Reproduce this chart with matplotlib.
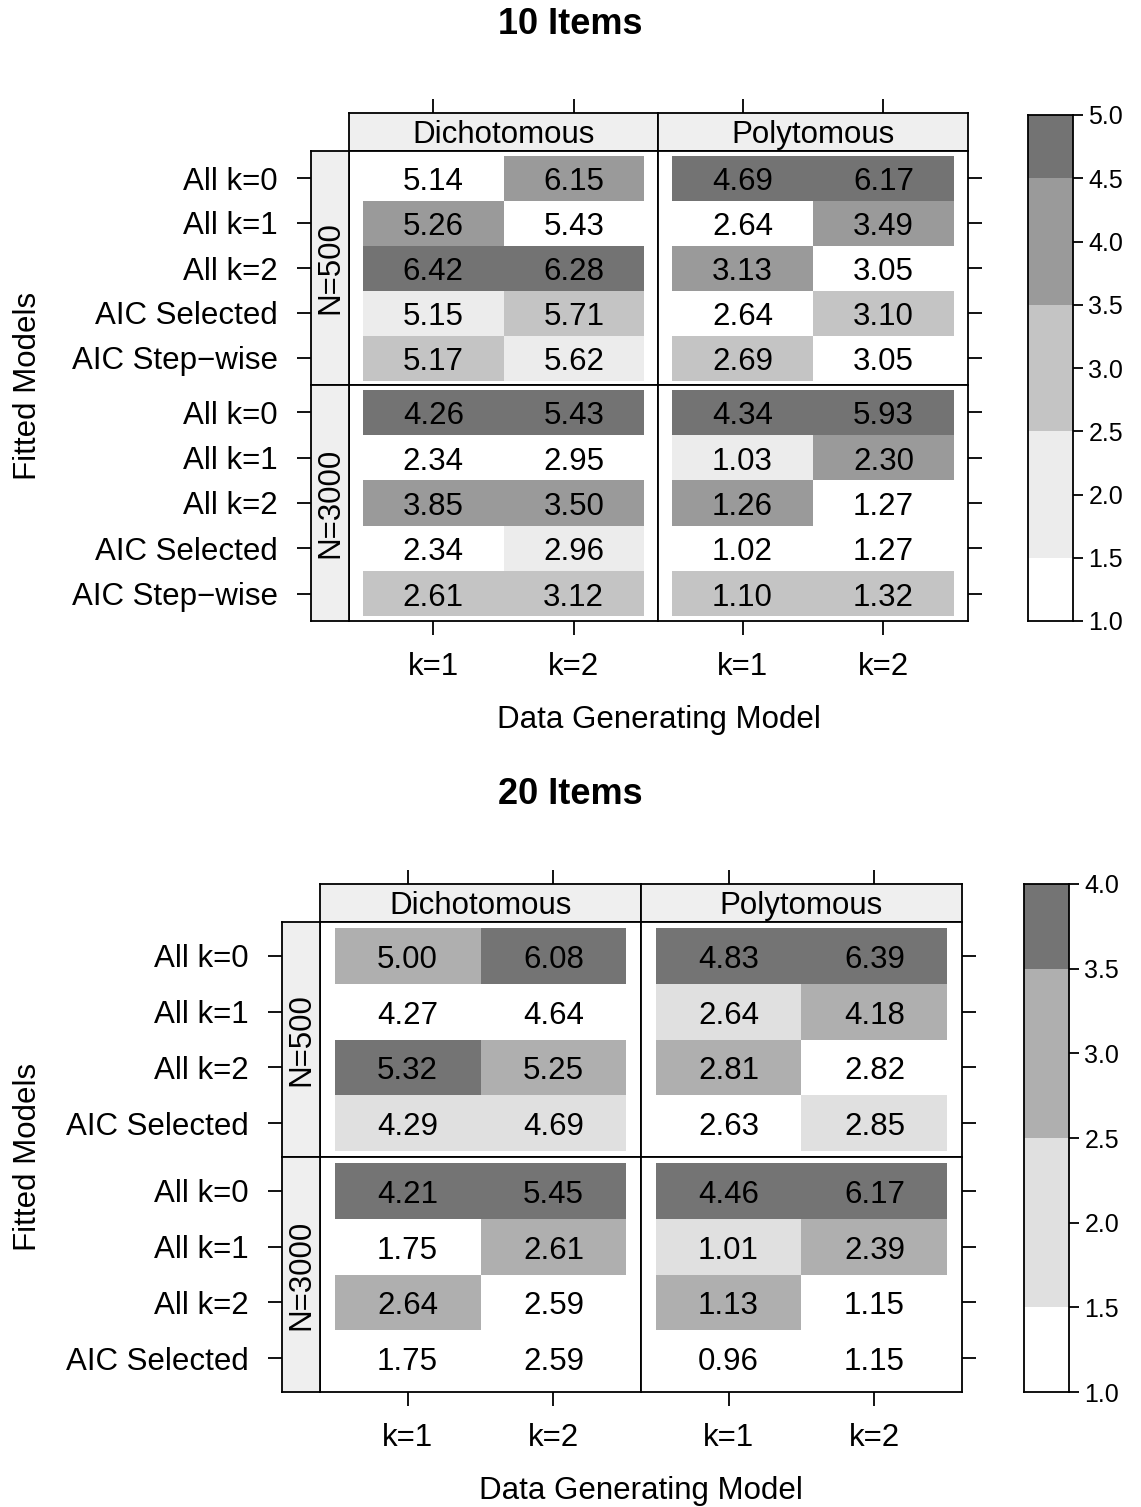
import numpy as np
import pandas as pd
import matplotlib
matplotlib.use("Agg")
import matplotlib.pyplot as plt
from matplotlib.colors import ListedColormap
from matplotlib.transforms import offset_copy

plt.rcParams['font.family'] = ['Liberation Sans', 'DejaVu Sans']

# data: rows = fitted models, columns = data generating model (k=1, k=2)
gen_models = ["k=1", "k=2"]
item_types = ["Dichotomous", "Polytomous"]
sample_sizes = ["N=500", "N=3000"]

rows_10 = ["All k=0", "All k=1", "All k=2", "AIC Selected", "AIC Step\u2212wise"]
dich_500_10 = [[5.14, 6.15], [5.26, 5.43], [6.42, 6.28], [5.15, 5.71], [5.17, 5.62]]
poly_500_10 = [[4.69, 6.17], [2.64, 3.49], [3.13, 3.05], [2.64, 3.10], [2.69, 3.05]]
dich_3000_10 = [[4.26, 5.43], [2.34, 2.95], [3.85, 3.50], [2.34, 2.96], [2.61, 3.12]]
poly_3000_10 = [[4.34, 5.93], [1.03, 2.30], [1.26, 1.27], [1.02, 1.27], [1.10, 1.32]]

rows_20 = ["All k=0", "All k=1", "All k=2", "AIC Selected"]
dich_500_20 = [[5.00, 6.08], [4.27, 4.64], [5.32, 5.25], [4.29, 4.69]]
poly_500_20 = [[4.83, 6.39], [2.64, 4.18], [2.81, 2.82], [2.63, 2.85]]
dich_3000_20 = [[4.21, 5.45], [1.75, 2.61], [2.64, 2.59], [1.75, 2.59]]
poly_3000_20 = [[4.46, 6.17], [1.01, 2.39], [1.13, 1.15], [0.96, 1.15]]

# shading = rank of the model within each column
cuts_10 = [1.0, 1.5, 2.5, 3.5, 4.5, 5.0]
greys_10 = ["#ffffff", "#ececec", "#c4c4c4", "#9a9a9a", "#737373"]
ticks_10 = [1.0, 1.5, 2.0, 2.5, 3.0, 3.5, 4.0, 4.5, 5.0]
cuts_20 = [1.0, 1.5, 2.5, 3.5, 4.0]
greys_20 = ["#ffffff", "#e0e0e0", "#afafaf", "#747474"]
ticks_20 = [1.0, 1.5, 2.0, 2.5, 3.0, 3.5, 4.0]

W, H = 1141, 1507
fig = plt.figure(figsize=(W / 100, H / 100), dpi=100)

FS = 22.5
LW = 1.3


def box(x0, y0, x1, y1):
    return fig.add_axes([x0 / W, 1 - y1 / H, (x1 - x0) / W, (y1 - y0) / H])


def rank_index(vals, cuts):
    r = pd.DataFrame(vals).rank(method="average").values
    # lattice style bins: (a, b]
    idx = np.searchsorted(cuts, r, side="left") - 1
    return np.clip(idx, 0, len(cuts) - 2)


def style(ax):
    for s in ax.spines.values():
        s.set_linewidth(LW)
    ax.tick_params(width=LW, length=10, direction="out")


def draw_block(title, rows, panels, cuts, greys, cticks, g):
    n = len(rows)
    cmap = ListedColormap(greys)
    xs = [g["x0"], g["xm"], g["x1"]]
    ys = [g["y0"], g["ym"], g["y1"]]
    fig.text(0.5, 1 - g["title"] / H, title, ha="center", va="center",
             fontsize=26, fontweight="bold")
    for c in range(2):
        # top strip
        st = box(xs[c], g["st"], xs[c + 1], g["y0"])
        st.set_facecolor("#efefef")
        st.set_xlim(0.4, 2.6)
        st.set_ylim(0, 1)
        st.text(0.5, 0.5, item_types[c],
                transform=offset_copy(st.transAxes, fig=fig, y=-3, units="dots"),
                ha="center", va="center", fontsize=FS)
        style(st)
        st.set_yticks([])
        st.xaxis.tick_top()
        st.set_xticks([1, 2])
        st.set_xticklabels([])
        for r in range(2):
            vals = panels[r][c]
            idx = rank_index(vals, cuts)
            ax = box(xs[c], ys[r], xs[c + 1], ys[r + 1])
            ax.pcolormesh(np.arange(0.5, 3.0, 1.0), np.arange(0.5, n + 1.0, 1.0), idx,
                          cmap=cmap, vmin=-0.5, vmax=len(greys) - 0.5)
            tr = offset_copy(ax.transData, fig=fig, y=-4, units="dots")
            for i in range(n):
                for j in range(2):
                    ax.text(j + 1, i + 1, "%.2f" % vals[i][j], ha="center",
                            va="center", fontsize=FS, transform=tr)
            ax.set_xlim(0.4, 2.6)
            ax.set_ylim(n + 0.6, 0.4)
            style(ax)
            ax.set_xticks([])
            ax.set_yticks([])
            if r == 1:
                ax.set_xticks([1, 2])
                ax.set_xticklabels(gen_models, fontsize=FS)
                ax.tick_params(axis="x", pad=12)
            if c == 1:
                ax.yaxis.tick_right()
                ax.set_yticks(range(1, n + 1))
                ax.set_yticklabels([])
            if c == 0:
                ls = box(g["ls"], ys[r], xs[0], ys[r + 1])
                ls.set_facecolor("#efefef")
                ls.set_ylim(n + 0.6, 0.4)
                ls.set_xlim(0, 1)
                ls.text(0.5, 0.5, sample_sizes[r], transform=ls.transAxes,
                        ha="center", va="center", rotation=90, fontsize=FS)
                style(ls)
                ls.set_xticks([])
                ls.set_yticks(range(1, n + 1))
                ls.set_yticklabels(rows, fontsize=FS)
                ls.tick_params(axis="y", pad=14)
    fig.text((g["x0"] + g["x1"]) / 2 / W, 1 - g["xlab"] / H, "Data Generating Model",
             ha="center", va="center", fontsize=FS)
    fig.text(28 / W, 1 - (g["y0"] + g["y1"]) / 2 / H, "Fitted Models",
             ha="center", va="center", rotation=90, fontsize=FS)
    # colour key
    cax = box(*g["cb"])
    cax.pcolormesh([0, 1], cuts, np.arange(len(greys)).reshape(-1, 1),
                   cmap=cmap, vmin=-0.5, vmax=len(greys) - 0.5)
    cax.set_xlim(0, 1)
    cax.set_ylim(cuts[0], cuts[-1])
    style(cax)
    cax.set_xticks([])
    cax.yaxis.tick_right()
    cax.set_yticks(cticks)
    cax.set_yticklabels(["%.1f" % t for t in cticks], fontsize=18)
    cax.tick_params(axis="y", length=7, pad=4)


draw_block("10 Items", rows_10,
           [[dich_500_10, poly_500_10], [dich_3000_10, poly_3000_10]],
           cuts_10, greys_10, ticks_10,
           dict(title=24, st=113, y0=151, ym=385, y1=621, ls=311,
                x0=349, xm=658, x1=968, xlab=720, cb=(1028, 115, 1073, 621)))

draw_block("20 Items", rows_20,
           [[dich_500_20, poly_500_20], [dich_3000_20, poly_3000_20]],
           cuts_20, greys_20, ticks_20,
           dict(title=795, st=884, y0=922, ym=1157, y1=1392, ls=282,
                x0=320, xm=641, x1=962, xlab=1491, cb=(1024, 884, 1069, 1392)))

fig.savefig("out.png", dpi=100)
